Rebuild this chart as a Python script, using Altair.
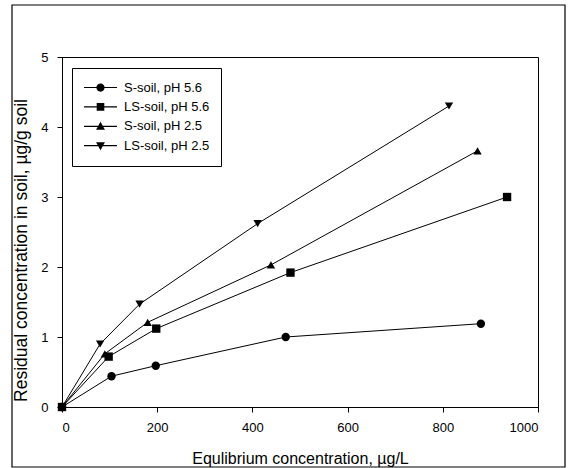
import altair as alt
import pandas as pd

series_names = ["S-soil, pH 5.6", "LS-soil, pH 5.6", "S-soil, pH 2.5", "LS-soil, pH 2.5"]

s56_x = [0, 104, 197, 470, 880]
s56_y = [0, 0.44, 0.59, 1.00, 1.19]
ls56_x = [0, 98, 198, 480, 935]
ls56_y = [0, 0.72, 1.12, 1.92, 3.00]
s25_x = [0, 90, 180, 439, 873]
s25_y = [0, 0.76, 1.21, 2.03, 3.66]
ls25_x = [0, 80, 163, 411, 813]
ls25_y = [0, 0.90, 1.47, 2.62, 4.30]

x_ticks = [0, 200, 400, 600, 800, 1000]
y_ticks = [0, 1, 2, 3, 4, 5]

rows = []
for name, xs, ys in zip(series_names, [s56_x, ls56_x, s25_x, ls25_x], [s56_y, ls56_y, s25_y, ls25_y]):
    for xv, yv in zip(xs, ys):
        rows.append({"series": name, "x": xv, "y": yv})
df = pd.DataFrame(rows)

point_shapes = ["circle", "square", "triangle-up", "triangle-down"]
bar = "M-1,-0.035H1V0.035H-1Z"
legend_paths = [
    bar + "M0.25,0A0.25,0.25,0,1,1,-0.25,0A0.25,0.25,0,1,1,0.25,0Z",
    bar + "M-0.23,-0.23H0.23V0.23H-0.23Z",
    bar + "M0,-0.27L0.27,0.21L-0.27,0.21Z",
    bar + "M0,0.27L-0.27,-0.21L0.27,-0.21Z",
]

xenc = alt.X("x:Q", scale=alt.Scale(domain=[0, 1000], nice=False),
             axis=alt.Axis(values=x_ticks, format="d", title="Equlibrium concentration, µg/L",
                           grid=False, tickSize=5, labelPadding=9, titlePadding=16,
                           domainColor="black", tickColor="black"))
yenc = alt.Y("y:Q", scale=alt.Scale(domain=[0, 5], nice=False),
             axis=alt.Axis(values=y_ticks, format="d", title="Residual concentration in soil,   µg/g soil",
                           grid=False, tickSize=5, labelPadding=9, titlePadding=10, titleY=193,
                           titleFontSize=17.5,
                           domainColor="black", tickColor="black"))

base = alt.Chart(df)

lines = base.mark_line(color="black", strokeWidth=1, clip=False).encode(
    x=xenc, y=yenc, detail="series:N", order="x:Q"
)

points = base.mark_point(filled=True, color="black", opacity=1, size=70, clip=False).encode(
    x="x:Q", y="y:Q",
    shape=alt.Shape("series:N", scale=alt.Scale(domain=series_names, range=point_shapes), legend=None),
)

legend_layer = base.transform_filter("datum.x < -1").mark_point(
    filled=True, color="black", opacity=1
).encode(
    x="x:Q", y="y:Q",
    shape=alt.Shape("series:N", scale=alt.Scale(domain=series_names, range=legend_paths),
                    legend=alt.Legend(title=None, orient="none", legendX=10, legendY=11,
                                      symbolSize=1089, labelOffset=6, padding=11,
                                      strokeColor="black", fillColor="white",
                                      symbolFillColor="black", symbolOpacity=1,
                                      labelFontSize=13, labelFont="Liberation Sans",
                                      labelColor="black", rowPadding=2.4, clipHeight=17)),
)

frame = alt.Chart(pd.DataFrame({"a": [0]})).mark_rect(
    fill=None, stroke="black", strokeWidth=1.2, clip=False
).encode(x=alt.value(-50), x2=alt.value(503), y=alt.value(-52), y2=alt.value(410))

chart = alt.layer(frame, lines, points, legend_layer).resolve_scale(shape="independent").properties(
    width=476, height=350,
    autosize=alt.AutoSizeParams(type="none"),
    padding={"left": 62, "top": 57, "right": 32, "bottom": 61},
    background="white",
).configure_view(stroke="black", strokeWidth=1).configure_axis(
    labelFont="Liberation Sans", titleFont="Liberation Sans",
    labelFontSize=13, titleFontSize=16, titleFontWeight="normal",
    labelColor="black", titleColor="black", domainWidth=1, tickWidth=1,
)

chart.save("out.html", embed_options={"renderer": "svg", "actions": False})
